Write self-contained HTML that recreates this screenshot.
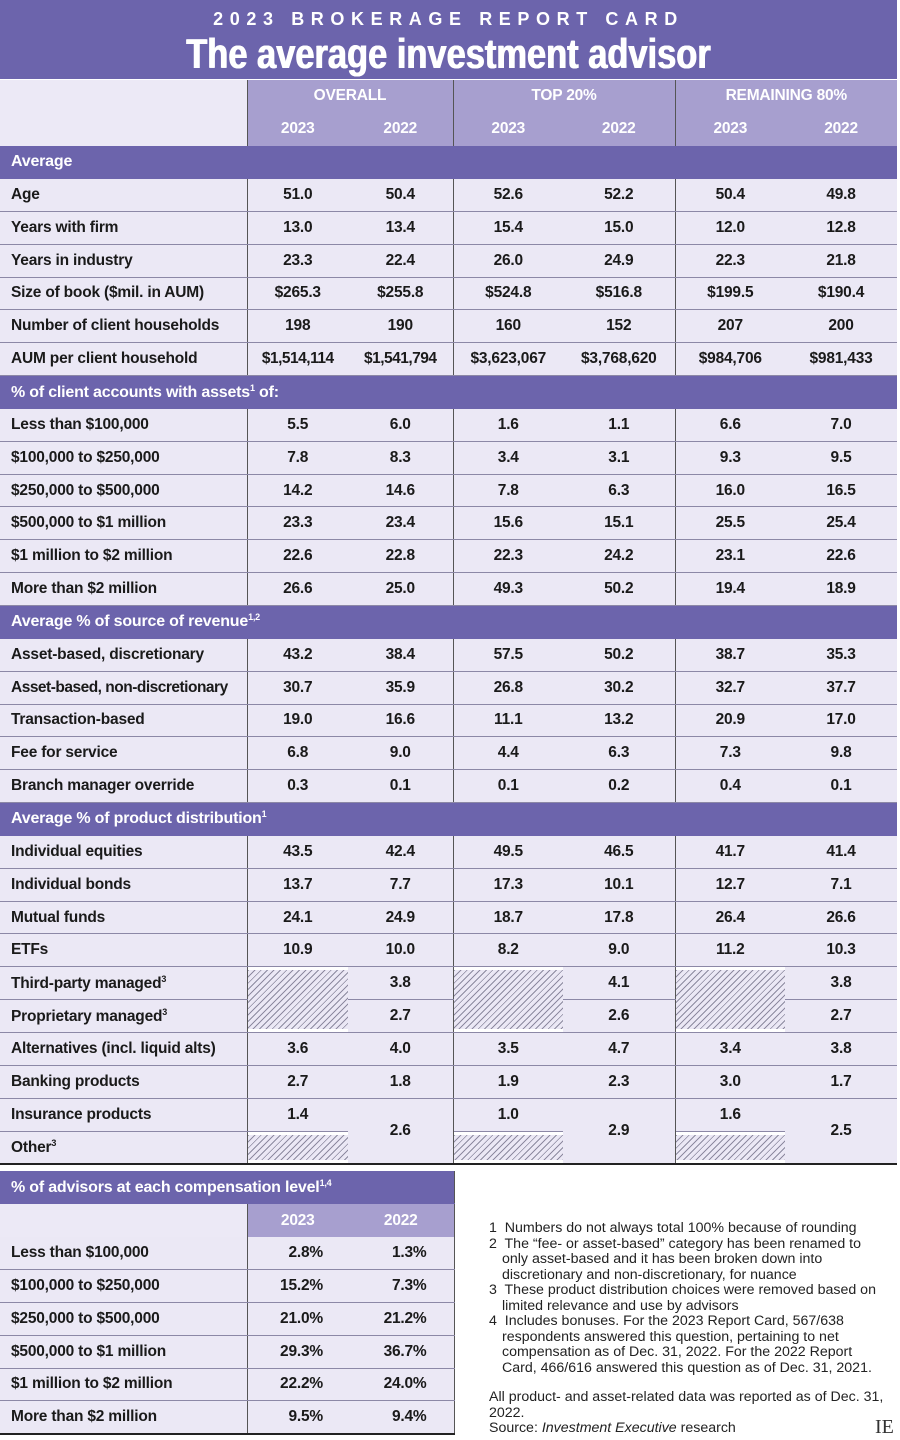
<!DOCTYPE html>
<html><head><meta charset="utf-8"><style>
*{margin:0;padding:0;box-sizing:border-box}
body{width:900px;height:1440px;background:#fff;font-family:"Liberation Sans Narrow","Liberation Sans",sans-serif;font-weight:bold;color:#1a1a1a;position:relative;overflow:hidden}
.top{position:absolute;left:0;top:0;width:897px;height:79px;background:#6c64ac;color:#fff;text-align:center}
.top .a{position:absolute;top:9px;left:0;width:100%;font-family:"Liberation Sans",sans-serif;font-size:18px;letter-spacing:6.6px}
.top .b{position:absolute;top:30px;left:0;width:100%;font-size:42px;transform:scaleX(0.82);text-shadow:0.6px 0 0 #fff,-0.6px 0 0 #fff}
table{border-collapse:collapse;position:absolute;table-layout:fixed}
td{font-size:15.5px;letter-spacing:-0.2px;height:32.85px;border-bottom:1px solid #8c88a6;background:#ebe8f5;text-align:center;white-space:nowrap;overflow:hidden}
td.l{text-align:left;padding-left:11px;border-right:1px solid #555}
td.s{border-right:1px solid #555}
tr.sec td{background:#6c64ac;color:#fff;text-align:left;padding-left:11px;border-bottom:1px solid #6c64ac;font-size:16px}
tr.h td{background:#a79fcf;color:#fff;font-size:15.5px;border-bottom:none}
tr.h td.e{background:#ece9f6}
.hat{background:repeating-linear-gradient(135deg,#ebe8f5 0 2px,#8d8aa0 2px 3px,#ebe8f5 3px 4.5px)!important;background-clip:content-box!important;padding:3px 0}
sup{font-size:9px;vertical-align:6px}
.notes{position:absolute;left:489px;top:1221px;width:398px;font-family:"Liberation Sans",sans-serif;font-weight:normal;font-size:14.2px;line-height:15.5px;color:#222}
.notes div.n{padding-left:13px;text-indent:-13px}
</style></head><body>
<div class="top"><div class="a">2023 BROKERAGE REPORT CARD</div><div class="b">The average investment advisor</div></div>
<table style="left:0;top:80px;width:897px">
<colgroup><col style="width:247px"><col style="width:101px"><col style="width:105px"><col style="width:110px"><col style="width:112px"><col style="width:110px"><col style="width:112px"></colgroup>
<tr class="h"><td class="e" rowspan="2" style="border-right:1px solid #555"></td><td colspan="2" class="s">OVERALL</td><td colspan="2" class="s">TOP 20%</td><td colspan="2">REMAINING 80%</td></tr>
<tr class="h"><td>2023</td><td class="s">2022</td><td>2023</td><td class="s">2022</td><td>2023</td><td>2022</td></tr>
<tr class="sec"><td colspan="7">Average</td></tr>
<tr><td class="l">Age</td><td>51.0</td><td class="s">50.4</td><td>52.6</td><td class="s">52.2</td><td>50.4</td><td>49.8</td></tr>
<tr><td class="l">Years with firm</td><td>13.0</td><td class="s">13.4</td><td>15.4</td><td class="s">15.0</td><td>12.0</td><td>12.8</td></tr>
<tr><td class="l">Years in industry</td><td>23.3</td><td class="s">22.4</td><td>26.0</td><td class="s">24.9</td><td>22.3</td><td>21.8</td></tr>
<tr><td class="l">Size of book ($mil. in AUM)</td><td>$265.3</td><td class="s">$255.8</td><td>$524.8</td><td class="s">$516.8</td><td>$199.5</td><td>$190.4</td></tr>
<tr><td class="l">Number of client households</td><td>198</td><td class="s">190</td><td>160</td><td class="s">152</td><td>207</td><td>200</td></tr>
<tr><td class="l">AUM per client household</td><td style="letter-spacing:-0.5px">$1,514,114</td><td class="s" style="letter-spacing:-0.5px">$1,541,794</td><td>$3,623,067</td><td class="s">$3,768,620</td><td>$984,706</td><td>$981,433</td></tr>
<tr class="sec"><td colspan="7">% of client accounts with assets<sup>1</sup> of:</td></tr>
<tr><td class="l">Less than $100,000</td><td>5.5</td><td class="s">6.0</td><td>1.6</td><td class="s">1.1</td><td>6.6</td><td>7.0</td></tr>
<tr><td class="l">$100,000 to $250,000</td><td>7.8</td><td class="s">8.3</td><td>3.4</td><td class="s">3.1</td><td>9.3</td><td>9.5</td></tr>
<tr><td class="l">$250,000 to $500,000</td><td>14.2</td><td class="s">14.6</td><td>7.8</td><td class="s">6.3</td><td>16.0</td><td>16.5</td></tr>
<tr><td class="l">$500,000 to $1 million</td><td>23.3</td><td class="s">23.4</td><td>15.6</td><td class="s">15.1</td><td>25.5</td><td>25.4</td></tr>
<tr><td class="l">$1 million to $2 million</td><td>22.6</td><td class="s">22.8</td><td>22.3</td><td class="s">24.2</td><td>23.1</td><td>22.6</td></tr>
<tr><td class="l">More than $2 million</td><td>26.6</td><td class="s">25.0</td><td>49.3</td><td class="s">50.2</td><td>19.4</td><td>18.9</td></tr>
<tr class="sec"><td colspan="7">Average % of source of revenue<sup>1,2</sup></td></tr>
<tr><td class="l">Asset-based, discretionary</td><td>43.2</td><td class="s">38.4</td><td>57.5</td><td class="s">50.2</td><td>38.7</td><td>35.3</td></tr>
<tr><td class="l" style="letter-spacing:-0.5px">Asset-based, non-discretionary</td><td>30.7</td><td class="s">35.9</td><td>26.8</td><td class="s">30.2</td><td>32.7</td><td>37.7</td></tr>
<tr><td class="l">Transaction-based</td><td>19.0</td><td class="s">16.6</td><td>11.1</td><td class="s">13.2</td><td>20.9</td><td>17.0</td></tr>
<tr><td class="l">Fee for service</td><td>6.8</td><td class="s">9.0</td><td>4.4</td><td class="s">6.3</td><td>7.3</td><td>9.8</td></tr>
<tr><td class="l">Branch manager override</td><td>0.3</td><td class="s">0.1</td><td>0.1</td><td class="s">0.2</td><td>0.4</td><td>0.1</td></tr>
<tr class="sec"><td colspan="7">Average % of product distribution<sup>1</sup></td></tr>
<tr><td class="l">Individual equities</td><td>43.5</td><td class="s">42.4</td><td>49.5</td><td class="s">46.5</td><td>41.7</td><td>41.4</td></tr>
<tr><td class="l">Individual bonds</td><td>13.7</td><td class="s">7.7</td><td>17.3</td><td class="s">10.1</td><td>12.7</td><td>7.1</td></tr>
<tr><td class="l">Mutual funds</td><td>24.1</td><td class="s">24.9</td><td>18.7</td><td class="s">17.8</td><td>26.4</td><td>26.6</td></tr>
<tr><td class="l">ETFs</td><td>10.9</td><td class="s">10.0</td><td>8.2</td><td class="s">9.0</td><td>11.2</td><td>10.3</td></tr>
<tr><td class="l">Third-party managed<sup>3</sup></td><td rowspan="2" class="hat"></td><td class="s">3.8</td><td rowspan="2" class="hat"></td><td class="s">4.1</td><td rowspan="2" class="hat"></td><td>3.8</td></tr>
<tr><td class="l">Proprietary managed<sup>3</sup></td><td class="s">2.7</td><td class="s">2.6</td><td>2.7</td></tr>
<tr><td class="l">Alternatives (incl. liquid alts)</td><td>3.6</td><td class="s">4.0</td><td>3.5</td><td class="s">4.7</td><td>3.4</td><td>3.8</td></tr>
<tr><td class="l">Banking products</td><td>2.7</td><td class="s">1.8</td><td>1.9</td><td class="s">2.3</td><td>3.0</td><td>1.7</td></tr>
<tr><td class="l">Insurance products</td><td>1.4</td><td rowspan="2" class="s" style="border-bottom:2px solid #222">2.6</td><td>1.0</td><td rowspan="2" class="s" style="border-bottom:2px solid #222">2.9</td><td>1.6</td><td rowspan="2" style="border-bottom:2px solid #222">2.5</td></tr>
<tr><td class="l" style="border-bottom:2px solid #222">Other<sup>3</sup></td><td class="hat" style="border-bottom:2px solid #222"></td><td class="hat" style="border-bottom:2px solid #222"></td><td class="hat" style="border-bottom:2px solid #222"></td></tr>
</table>
<table style="left:0;top:1171px;width:454px">
<colgroup><col style="width:247px"><col style="width:101px"><col style="width:106px"></colgroup>
<tr class="sec"><td colspan="3" style="border-right:1px solid #555">% of advisors at each compensation level<sup>1,4</sup></td></tr>
<tr class="h"><td class="e" style="border-right:1px solid #555"></td><td>2023</td><td style="border-right:1px solid #555">2022</td></tr>
<tr><td class="l">Less than $100,000</td><td style="text-align:right;padding-right:25px">2.8%</td><td style="text-align:right;padding-right:27px;border-right:1px solid #555">1.3%</td></tr>
<tr><td class="l">$100,000 to $250,000</td><td style="text-align:right;padding-right:25px">15.2%</td><td style="text-align:right;padding-right:27px;border-right:1px solid #555">7.3%</td></tr>
<tr><td class="l">$250,000 to $500,000</td><td style="text-align:right;padding-right:25px">21.0%</td><td style="text-align:right;padding-right:27px;border-right:1px solid #555">21.2%</td></tr>
<tr><td class="l">$500,000 to $1 million</td><td style="text-align:right;padding-right:25px">29.3%</td><td style="text-align:right;padding-right:27px;border-right:1px solid #555">36.7%</td></tr>
<tr><td class="l">$1 million to $2 million</td><td style="text-align:right;padding-right:25px">22.2%</td><td style="text-align:right;padding-right:27px;border-right:1px solid #555">24.0%</td></tr>
<tr><td class="l" style="border-bottom:2px solid #222">More than $2 million</td><td style="text-align:right;padding-right:25px;border-bottom:2px solid #222">9.5%</td><td style="text-align:right;padding-right:27px;border-right:1px solid #555;border-bottom:2px solid #222">9.4%</td></tr>
</table>
<div class="notes">
<div class="n">1&nbsp; Numbers do not always total 100% because of rounding</div>
<div class="n">2&nbsp; The “fee- or asset-based” category has been renamed to only asset-based and it has been broken down into discretionary and non-discretionary, for nuance</div>
<div class="n">3&nbsp; These product distribution choices were removed based on limited relevance and use by advisors</div>
<div class="n">4&nbsp; Includes bonuses. For the 2023 Report Card, 567/638 respondents answered this question, pertaining to net compensation as of Dec. 31, 2022. For the 2022 Report Card, 466/616 answered this question as of Dec. 31, 2021.</div>
<div style="margin-top:14px">All product- and asset-related data was reported as of Dec. 31, 2022.<br>Source: <i>Investment Executive</i> research</div>
</div>
<div style="position:absolute;left:875px;top:1416px;font-family:'Liberation Serif',serif;font-weight:normal;font-size:20px;color:#333">IE</div>
</body></html>
